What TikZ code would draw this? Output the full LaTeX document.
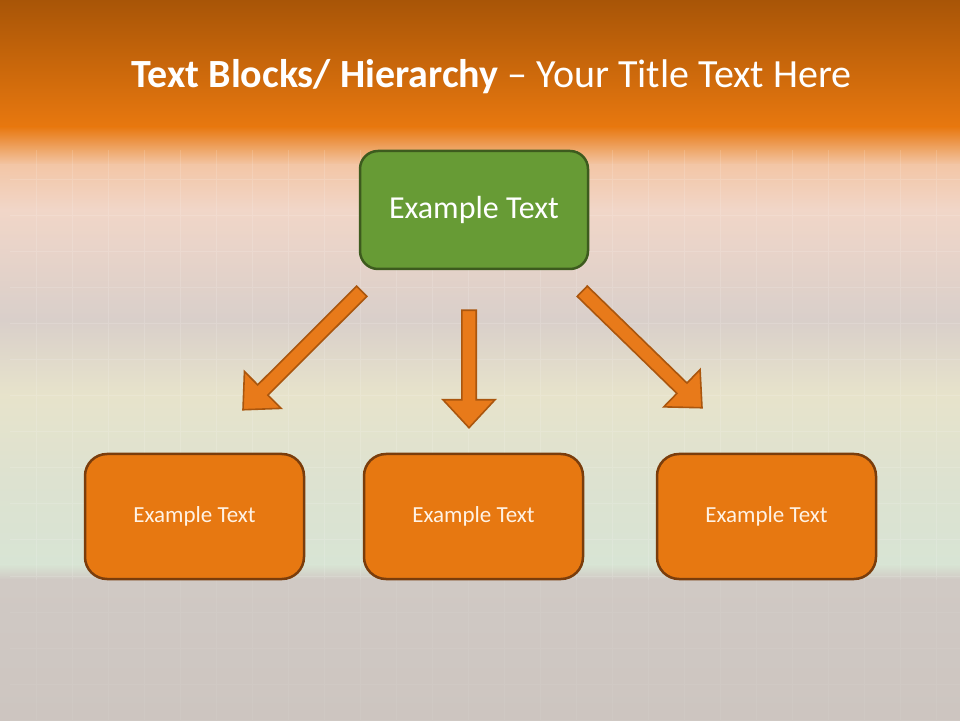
\documentclass[tikz,border=0pt]{standalone}
\usepackage{fontspec}
\setmainfont{Carlito}
\usepackage{tikz}
\usepackage{xcolor}
\usetikzlibrary{positioning}
\usetikzlibrary{calc}
\definecolor{headtop}{RGB}{168,85,7}
\definecolor{headbot}{RGB}{232,120,15}
\definecolor{peach}{RGB}{243,198,166}
\definecolor{blush}{RGB}{241,214,200}
\definecolor{greyrose}{RGB}{217,207,202}
\definecolor{straw}{RGB}{231,227,203}
\definecolor{sage}{RGB}{221,226,208}
\definecolor{mint}{RGB}{216,228,212}
\definecolor{stone}{RGB}{208,201,196}
\definecolor{stonedark}{RGB}{205,197,192}
\definecolor{leaf}{RGB}{103,155,53}
\definecolor{leafline}{RGB}{61,91,30}
\definecolor{pumpkin}{RGB}{231,120,17}
\definecolor{pumpkinline}{RGB}{122,61,12}
\definecolor{arrowfill}{RGB}{232,122,26}
\definecolor{arrowline}{RGB}{170,86,14}
\definecolor{cream}{RGB}{255,242,228}
\tikzstyle{title} = [text=white, font=\fontsize{40}{48}\selectfont]
\tikzstyle{topbox} = [rectangle, rounded corners=18pt, minimum width=228pt, minimum height=118pt, text centered, draw=leafline, line width=2.5pt, fill=leaf, text=white, font=\fontsize{32}{38}\selectfont]
\tikzstyle{lowbox} = [rectangle, rounded corners=22pt, minimum width=219pt, minimum height=125pt, text centered, draw=pumpkinline, line width=2.5pt, fill=pumpkin, text=cream, font=\fontsize{23}{28}\selectfont]
\tikzstyle{blockarrow} = [fill=arrowfill, draw=arrowline, line width=1.6pt, line join=miter]
% block arrow from tail #1 to tip #2
\newcommand{\drawblockarrow}[2]{%
  \coordinate (neck) at ($(#2)!28pt!(#1)$);
  \draw [blockarrow] ($(#1)!7.2pt!90:(#2)$) -- ($(neck)!7.2pt!-90:(#1)$) -- ($(neck)!26pt!-90:(#1)$) -- (#2) -- ($(neck)!26pt!90:(#1)$) -- ($(neck)!7.2pt!90:(#1)$) -- ($(#1)!7.2pt!-90:(#2)$) -- cycle;}

\begin{document}
\begin{tikzpicture}[x=1pt, y=1pt, node distance=286pt]
        \useasboundingbox (0,0) rectangle (960,720);
        % background
        \shade [top color=headtop, bottom color=headbot] (0,720) rectangle (960,593);
        \shade [top color=headbot, bottom color=peach] (0,593.5) rectangle (960,555);
        \shade [top color=peach, bottom color=blush] (0,555.5) rectangle (960,510);
        \shade [top color=blush, bottom color=greyrose] (0,510.5) rectangle (960,400);
        \shade [top color=greyrose, bottom color=straw] (0,400.5) rectangle (960,325);
        \shade [top color=straw, bottom color=sage] (0,325.5) rectangle (960,240);
        \shade [top color=sage, bottom color=mint] (0,240.5) rectangle (960,155);
        \shade [top color=mint, bottom color=stone] (0,155.5) rectangle (960,140);
        \shade [top color=stone, bottom color=stonedark] (0,140.5) rectangle (960,0);
        \draw [white, opacity=0.14, line width=1pt] (10,140) grid [step=36pt] (960,570);
        \draw [white, opacity=0.06, line width=1pt] (10,0) grid [step=36pt] (960,140);

        \node (title) [title] at (491.5,643) {\textbf{Text Blocks/ Hierarchy} – Your Title Text Here};
        \node (top) [topbox] at (474,510) {Example Text};
        \node (mid) [lowbox, below of=top, yshift=-20.5pt, xshift=-0.5pt] {Example Text};
        \node (left) [lowbox, left of=mid, xshift=7pt] {Example Text};
        \node (right) [lowbox, right of=mid, xshift=7pt] {Example Text};

        \coordinate (leftTail) at ($(top.south west)+(3,-21)$);
        \coordinate (leftTip) at ($(left.north)+(48.5,43)$);
        \coordinate (midTail) at ($(top.south)+(-5,-40)$);
        \coordinate (midTip) at ($(mid.north)+(-4.5,25)$);
        \coordinate (rightTail) at ($(top.south east)+(-7,-21)$);
        \coordinate (rightTip) at ($(right.north)+(-64.5,45)$);

        \drawblockarrow{leftTail}{leftTip}
        \drawblockarrow{midTail}{midTip}
        \drawblockarrow{rightTail}{rightTip}
    \end{tikzpicture}
\end{document}
